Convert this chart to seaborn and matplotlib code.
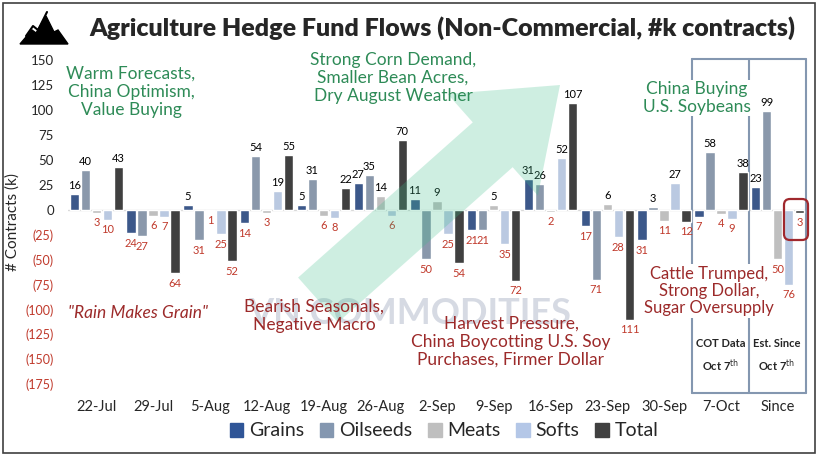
import numpy as np
import pandas as pd
import matplotlib
matplotlib.use("Agg")
import matplotlib.pyplot as plt
import seaborn as sns
from matplotlib.patches import FancyBboxPatch, Polygon, Rectangle

# data (k contracts)
weeks = ["22-Jul", "29-Jul", "5-Aug", "12-Aug", "19-Aug", "26-Aug", "2-Sep",
         "9-Sep", "16-Sep", "23-Sep", "30-Sep", "7-Oct", "Since"]
grains = [16, -24, 5, -14, 5, 27, 11, -21, 31, -17, -31, -7, 23]
oilseeds = [40, -27, -31, 54, 31, 35, -50, -21, 26, -71, 3, 58, 99]
meats = [-3, -6, -1, -3, -6, 14, 9, 5, -2, 6, -11, -4, -50]
softs = [-10, -7, -25, 19, -8, -6, -25, -35, 52, -28, 27, -9, -76]
total = [43, -64, -52, 55, 22, 70, -54, -72, 107, -111, -12, 38, -3]

series = ["Grains", "Oilseeds", "Meats", "Softs", "Total"]
colors = ["#2F5597", "#8497B0", "#BFBFBF", "#B4C7E7", "#404040"]
values = [grains, oilseeds, meats, softs, total]

df = pd.DataFrame({
    "week": weeks * 5,
    "series": np.repeat(series, len(weeks)),
    "value": grains + oilseeds + meats + softs + total,
})

sns.set_style("white")
plt.rcParams["font.family"] = ["Lato", "DejaVu Sans"]

W, H = 820, 457
def px(x, y):
    return x / W, 1 - y / H

fig = plt.figure(figsize=(8.2, 4.57), dpi=100)
ax = fig.add_axes([68 / W, 1 - 394 / H, (806 - 68) / W, (394 - 50) / H])

sns.barplot(data=df, x="week", y="value", hue="series", order=weeks,
            hue_order=series, palette=colors, width=0.97, gap=0.15,
            errorbar=None, ax=ax, zorder=2)

ax.set_xlim(-0.5, 12.5)
ax.set_ylim(-185, 160)
ax.axhline(0, color="#D9D9D9", lw=1, zorder=1)
sns.despine(ax=ax, left=True, bottom=True)

yt = list(range(-175, 151, 25))
ax.set_yticks(yt)
ax.set_yticklabels([str(v) if v >= 0 else f"({-v})" for v in yt])
for lab, v in zip(ax.get_yticklabels(), yt):
    if v < 0:
        lab.set_color("#C0392B")
        lab.set_fontsize(9)
    else:
        lab.set_fontsize(9.5)
ax.tick_params(axis="y", length=0, pad=10)
ax.tick_params(axis="x", length=0, pad=4, labelsize=10.5)
ax.set_xlabel("")
ax.set_ylabel("# Contracts (k)", fontsize=11, labelpad=4)

# bar labels
for cont, vals in zip(ax.containers, values):
    for bar, v in zip(cont, vals):
        x = bar.get_x() + bar.get_width() / 2
        if v >= 0:
            ax.annotate(str(v), (x, v), xytext=(0, 2), textcoords="offset points",
                        ha="center", va="bottom", fontsize=8, color="black", zorder=6)
        else:
            ax.annotate(str(-v), (x, v), xytext=(0, -3), textcoords="offset points",
                        ha="center", va="top", fontsize=8, color="#C0392B", zorder=6)

# bracket for COT / estimate columns
lc = "#8497B0"
for xv in [10.5, 11.5, 12.5]:
    ax.plot([xv, xv], [151, -184], color=lc, lw=1.5, clip_on=False, zorder=1)
ax.plot([10.5, 12.5], [151, 151], color=lc, lw=1.5, clip_on=False, zorder=1)
ax.plot([10.5, 12.5], [-184, -184], color=lc, lw=1.5, clip_on=False, zorder=1)

# red highlight around the estimated total
fig.patches.append(FancyBboxPatch((784 / 100, (H - 240) / 100), 24 / 100, 41 / 100,
                                  boxstyle="round,pad=0,rounding_size=0.06",
                                  transform=fig.dpi_scale_trans, fill=False,
                                  edgecolor="#A0282D", lw=1.6, zorder=5))

legend = ax.get_legend()
if legend is not None:
    legend.remove()
handles = [Rectangle((0, 0), 1, 1, color=c) for c in colors]
ax.legend(handles, series, loc="center", bbox_to_anchor=px(444, 431),
          bbox_transform=fig.transFigure, ncol=5, frameon=False, fontsize=14,
          handlelength=0.7, handleheight=0.7, handletextpad=0.3, columnspacing=0.8)

# watermark arrow and text
sh, hh, hl = 30, 68, 90
tip = np.array([560, 85]); base = np.array([318, 300])
u = (tip - base) / np.linalg.norm(tip - base); p = np.array([-u[1], u[0]])
hb = tip - hl * u
pts = [base + sh * p, hb + sh * p, hb + hh * p, tip, hb - hh * p, hb - sh * p, base - sh * p]
fig.patches.append(Polygon([px(*q) for q in pts], closed=True, transform=fig.transFigure,
                           facecolor="#3DBE8A", alpha=0.25, edgecolor="none", zorder=3))
ax.text(*px(410, 314), "VN COMMODITIES", transform=fig.transFigure, fontsize=26,
        fontweight="bold", color="#AEB6C8", alpha=0.5, ha="center", va="center", zorder=0)

# title and logo
fig.text(*px(442, 28), "Agriculture Hedge Fund Flows (Non-Commercial, #k contracts)",
         fontsize=18, fontweight="heavy", ha="center", va="center")
logo = [(20, 44), (32, 30), (36, 33), (46, 16), (54, 32), (58, 30), (68, 44)]
fig.patches.append(Polygon([px(*q) for q in logo], closed=True, transform=fig.transFigure,
                           facecolor="black", edgecolor="black", zorder=4))
zig = [(26, 36), (33, 26), (38, 30), (47, 12)]
fig.lines.append(plt.Line2D([px(*q)[0] for q in zig], [px(*q)[1] for q in zig],
                            transform=fig.transFigure, color="black", lw=1.5))
fig.patches.append(Rectangle((0.004, 0.008), 0.99, 0.985, transform=fig.transFigure,
                             fill=False, edgecolor="#404040", lw=1.2, zorder=4))

green = "#2E8B57"
red = "#9C2A2A"
fig.text(*px(131, 92), "Warm Forecasts,\nChina Optimism,\nValue Buying", color=green,
         fontsize=12.5, ha="center", va="center", linespacing=1.15, zorder=6)
fig.text(*px(393, 78), "Strong Corn Demand,\nSmaller Bean Acres,\nDry August Weather",
         color=green, fontsize=12.5, ha="center", va="center", linespacing=1.15, zorder=6)
ax.text(*px(697, 98), "China Buying\nU.S. Soybeans", transform=fig.transFigure, color=green,
        fontsize=12.5, ha="center", va="center", linespacing=1.15, zorder=1.5,
        bbox=dict(facecolor="white", edgecolor="none", pad=1))
fig.text(*px(68, 313), "\"Rain Makes Grain\"", color=red, fontsize=12.5, style="italic",
         ha="left", va="center", zorder=6)
fig.text(*px(314, 316), "Bearish Seasonals,\nNegative Macro", color=red, fontsize=12.5,
         ha="center", va="center", linespacing=1.15, zorder=6)
fig.text(*px(511, 342), "Harvest Pressure,\nChina Boycotting U.S. Soy\nPurchases, Firmer Dollar",
         color=red, fontsize=12.5, ha="center", va="center", linespacing=1.15, zorder=6)
ax.text(*px(709, 291), "Cattle Trumped,\nStrong Dollar,\nSugar Oversupply",
        transform=fig.transFigure, color=red, fontsize=12, ha="center", va="center",
        linespacing=1.1, zorder=1.5, bbox=dict(facecolor="white", edgecolor="none", pad=1))
fig.text(*px(721, 356), "COT Data\nOct 7$^{\\mathrm{th}}$", fontsize=8, fontweight="bold",
         ha="center", va="center", linespacing=1.6, zorder=6)
fig.text(*px(777, 356), "Est. Since\nOct 7$^{\\mathrm{th}}$", fontsize=8, fontweight="bold",
         ha="center", va="center", linespacing=1.6, zorder=6)

fig.savefig("out.png", dpi=100)
